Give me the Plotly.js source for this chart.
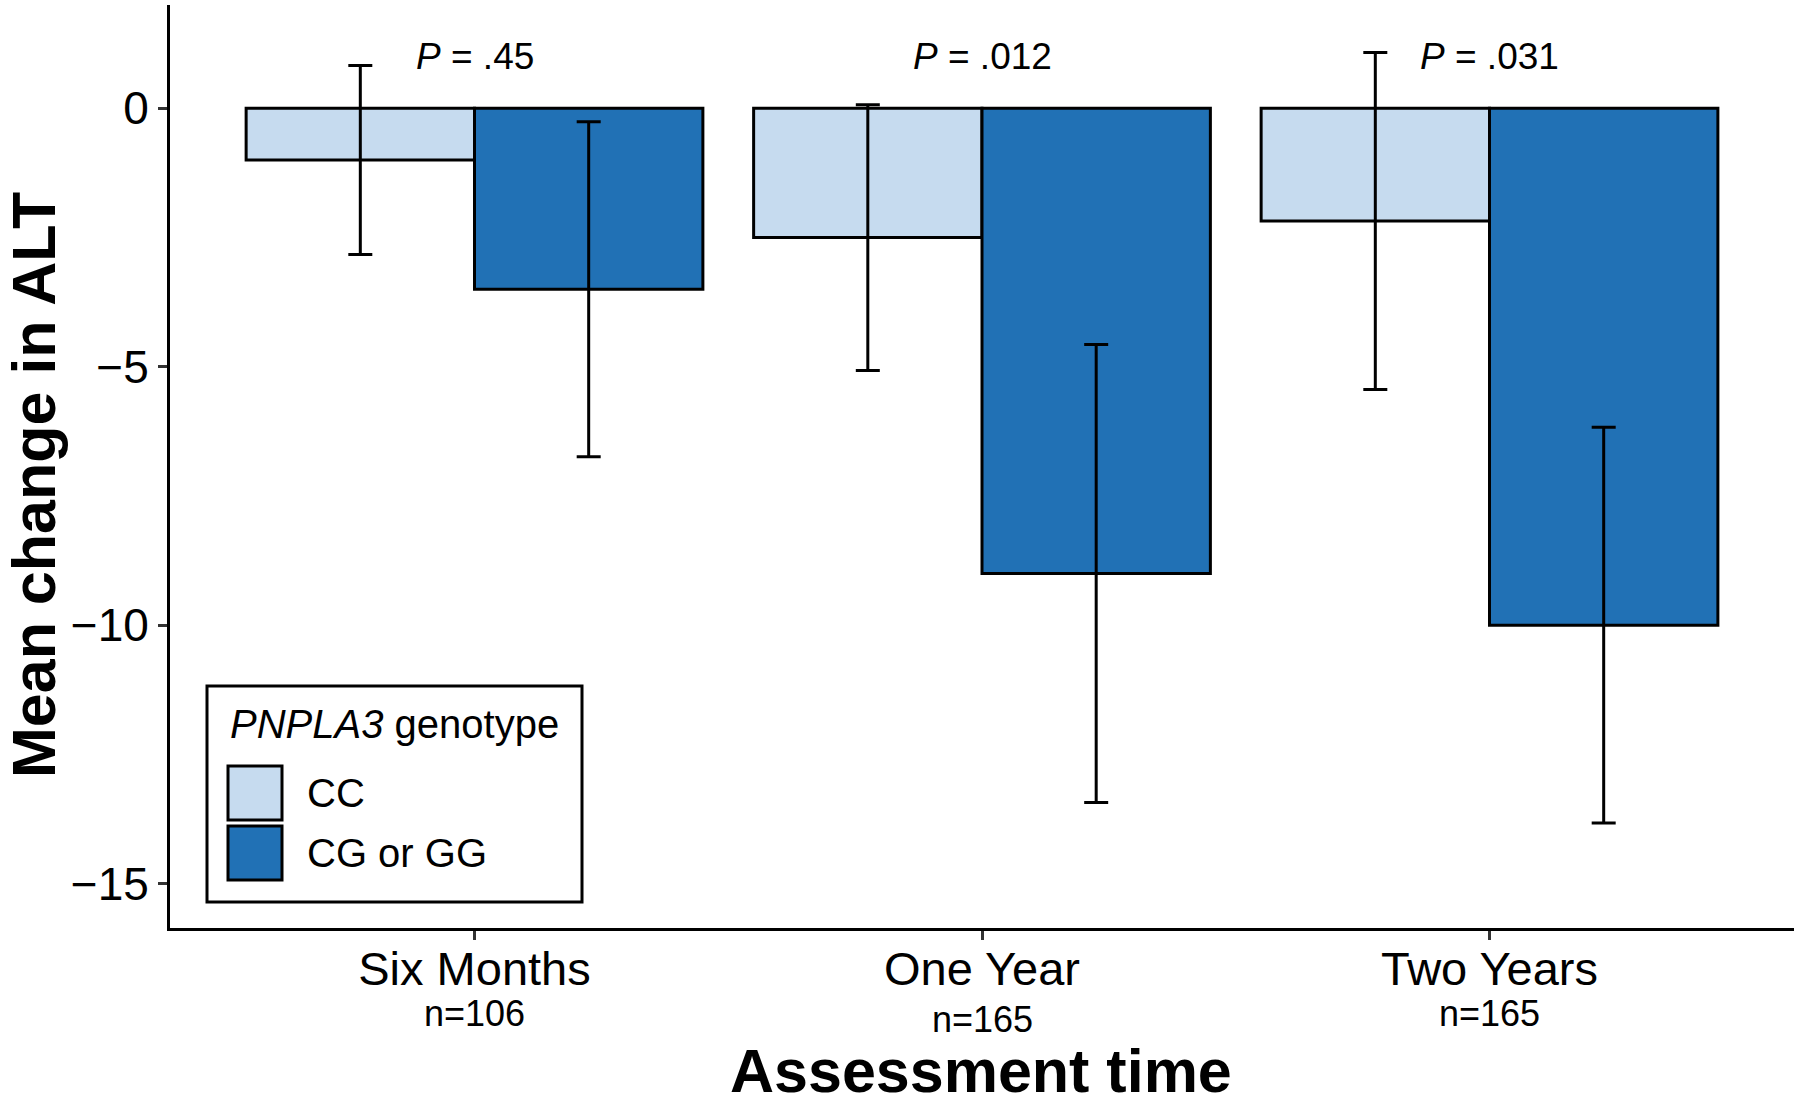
<!DOCTYPE html>
<html>
<head>
<meta charset="utf-8">
<script src="https://cdn.plot.ly/plotly-3.0.1.min.js"></script>
<style>
  html, body { margin: 0; padding: 0; background: #fff; }
  #chart { width: 1800px; height: 1105px; }
</style>
</head>
<body>
<div id="chart"></div>
<script>
// data
const categories  = ['Six Months', 'One Year', 'Two Years'];
const sampleSizes = ['n=106', 'n=165', 'n=165'];
const pValues     = ['.45', '.012', '.031'];
const groupNames  = ['CC', 'CG or GG'];

const meanCC = [-1.0, -2.5, -2.18];
const errCC  = [1.83, 2.57, 3.26];
const meanCG = [-3.5, -9.0, -10.0];
const errCG  = [3.24, 4.43, 3.83];

const yTickVals = [-15, -10, -5, 0];
const yTickText = ['\u221215', '\u221210', '\u22125', '0'];

// styling
const FONT = 'Liberation Sans, Arial, Helvetica, sans-serif';
const COLORS = ['#C6DBEF', '#2171B5'];
const MARGIN = { l: 170, r: 6, t: 5, b: 177 };
const W = 1800 - MARGIN.l - MARGIN.r;
const H = 1105 - MARGIN.t - MARGIN.b;

// pixel -> paper helpers for the hand-placed bits (legend, titles)
const px = x => (x - MARGIN.l) / W;
const py = y => (MARGIN.t + H - y) / H;

function barTrace(name, means, errs, color) {
  return {
    type: 'bar',
    name: name,
    x: categories,
    y: means,
    marker: { color: color, line: { color: '#000', width: 3 } },
    error_y: { type: 'data', array: errs, visible: true, color: '#000', thickness: 3, width: 12 },
    showlegend: false,
  };
}

const traces = [
  barTrace(groupNames[0], meanCC, errCC, COLORS[0]),
  barTrace(groupNames[1], meanCG, errCG, COLORS[1]),
];

const annotations = [];

categories.forEach((c, i) => {
  annotations.push({
    x: c, y: 1, xref: 'x', yref: 'y',
    text: '<i>P</i> = ' + pValues[i],
    showarrow: false, xanchor: 'center', yanchor: 'middle',
    font: { family: FONT, size: 37, color: '#000' },
  });
  annotations.push({
    x: c, y: py(1013), xref: 'x', yref: 'paper',
    text: sampleSizes[i],
    showarrow: false, xanchor: 'center', yanchor: 'middle',
    yshift: i === 1 ? -6 : 0,
    font: { family: FONT, size: 36, color: '#000' },
  });
});

// axis titles
annotations.push({
  x: px(981), y: py(1071), xref: 'paper', yref: 'paper',
  text: '<b>Assessment time</b>', showarrow: false,
  xanchor: 'center', yanchor: 'middle',
  font: { family: FONT, size: 61, color: '#000' },
});
annotations.push({
  x: px(34), y: py(485), xref: 'paper', yref: 'paper',
  text: '<b>Mean change in ALT</b>', showarrow: false, textangle: -90,
  xanchor: 'center', yanchor: 'middle',
  font: { family: FONT, size: 61, color: '#000' },
});

// legend (drawn by hand to get the large ggplot-style keys)
const shapes = [{
  type: 'rect', xref: 'paper', yref: 'paper',
  x0: px(207), x1: px(582), y0: py(686), y1: py(902),
  fillcolor: '#fff', line: { color: '#000', width: 3 }, layer: 'above',
}];
annotations.push({
  x: px(228), y: py(724), xref: 'paper', yref: 'paper',
  text: '<i>PNPLA3</i> genotype', showarrow: false,
  xanchor: 'left', yanchor: 'middle',
  font: { family: FONT, size: 40, color: '#000' },
});
groupNames.forEach((g, i) => {
  const top = 766 + i * 60;
  shapes.push({
    type: 'rect', xref: 'paper', yref: 'paper',
    x0: px(228), x1: px(282), y0: py(top), y1: py(top + 54),
    fillcolor: COLORS[i], line: { color: '#000', width: 3 }, layer: 'above',
  });
  annotations.push({
    x: px(305), y: py(top + 27), xref: 'paper', yref: 'paper',
    text: g, showarrow: false, xanchor: 'left', yanchor: 'middle',
    font: { family: FONT, size: 40, color: '#000' },
  });
});

const layout = {
  width: 1800,
  height: 1105,
  margin: MARGIN,
  paper_bgcolor: '#fff',
  plot_bgcolor: '#fff',
  font: { family: FONT, color: '#000' },
  barmode: 'group',
  bargap: 0.1,
  bargroupgap: 0,
  showlegend: false,
  xaxis: {
    type: 'category',
    range: [-0.6, 2.6],
    showline: true, linecolor: '#000', linewidth: 3,
    ticks: 'outside', ticklen: 9, tickwidth: 3, tickcolor: '#333',
    ticklabelstandoff: -11,
    tickfont: { family: FONT, size: 47, color: '#000' },
    showgrid: false, zeroline: false,
    fixedrange: true,
  },
  yaxis: {
    range: [-15.86, 2.0],
    tickvals: yTickVals, ticktext: yTickText,
    showline: true, linecolor: '#000', linewidth: 3,
    ticks: 'outside', ticklen: 9, tickwidth: 3, tickcolor: '#333',
    tickfont: { family: FONT, size: 46, color: '#000' },
    showgrid: false, zeroline: false,
    fixedrange: true,
  },
  shapes: shapes,
  annotations: annotations,
};

Plotly.newPlot('chart', traces, layout, { displayModeBar: false, staticPlot: true });
</script>
</body>
</html>
